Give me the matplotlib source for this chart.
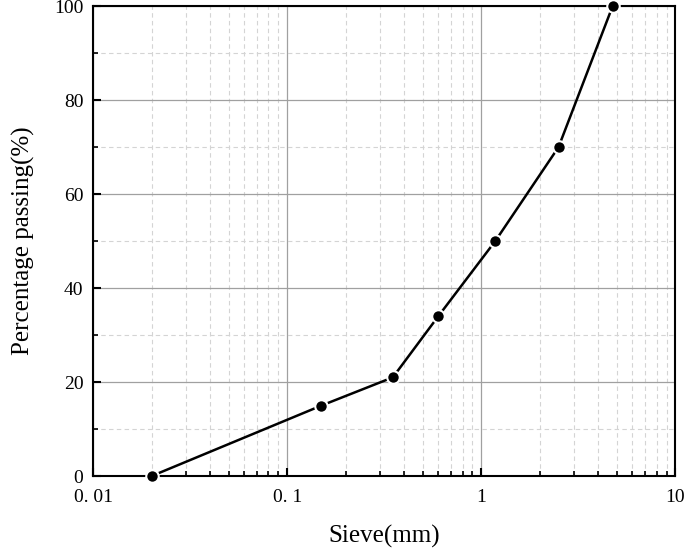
import numpy as np
import matplotlib.pyplot as plt
from matplotlib.ticker import MultipleLocator, LogLocator, FixedLocator, FixedFormatter

# sieve size (mm) and percentage passing
sieve = [0.02, 0.15, 0.35, 0.6, 1.18, 2.5, 4.75]
passing = [0, 15, 21, 34, 50, 70, 100]

xticks = [0.01, 0.1, 1, 10]
xtick_labels = ['0. 01', '0. 1', '1', '10']

plt.rcParams['font.family'] = ['Liberation Serif', 'DejaVu Serif']

fig = plt.figure(figsize=(6.85, 5.51), dpi=100)
ax = fig.add_axes([0.136, 0.136, 0.850, 0.853])

ax.plot(sieve, passing, c='black', lw=1.8, marker='o', ms=9,
        mfc='black', mec='white', mew=1.5, zorder=3, clip_on=False)

ax.set_xscale('log')
ax.set_xlim(0.01, 10)
ax.set_ylim(0, 100)

ax.xaxis.set_major_locator(FixedLocator(xticks))
ax.xaxis.set_major_formatter(FixedFormatter(xtick_labels))
ax.xaxis.set_minor_locator(LogLocator(base=10, subs=np.arange(2, 10)))
ax.xaxis.set_minor_formatter(plt.NullFormatter())
ax.yaxis.set_major_locator(MultipleLocator(20))
ax.yaxis.set_minor_locator(MultipleLocator(10))

ax.grid(which='major', c='#a0a0a0', lw=0.9, ls='-')
ax.grid(which='minor', c='#d4d4d4', lw=0.8, ls=(0, (4, 3)))

ax.tick_params(which='major', direction='in', length=6, width=1.5, labelsize=14)
ax.tick_params(which='minor', direction='in', length=3.5, width=1.2)
ax.tick_params(axis='x', pad=9)
ax.tick_params(axis='y', pad=7)
for s in ax.spines.values():
    s.set_linewidth(1.5)

ax.set_xlabel('Sieve(mm)', fontsize=18, labelpad=14)
ax.set_ylabel('Percentage passing(%)', fontsize=18, labelpad=14)

fig.savefig('out.png', dpi=100)
